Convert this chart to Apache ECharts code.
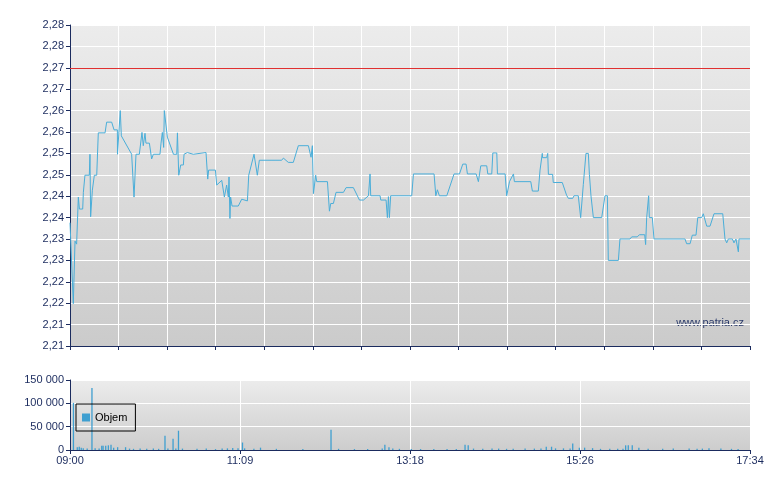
<!DOCTYPE html>
<html><head><meta charset="utf-8">
<script src="https://cdn.jsdelivr.net/npm/echarts@6/dist/echarts.min.js"></script>
<style>html,body{margin:0;padding:0;background:#fff}#c{width:780px;height:490px}</style>
</head><body><div id="c"></div>
<script>
// [minutes since 09:00, price]
var pricePoints = [
[0,2.2338],[1.3,2.2338],[2.5,2.2149],[3.8,2.2295],[5.0,2.2288],[6.3,2.2398],[7.1,2.2370],[9.6,2.2370],[10.1,2.2409],[11.3,2.2449],[14.6,2.2449],[15.1,2.2498],[15.6,2.2352],[16.9,2.2414],[18.4,2.2449],[20.2,2.2449],[21.4,2.2548],[26.5,2.2548],[27.7,2.2573],[31.5,2.2573],[33.3,2.2555],[35.8,2.2555],[35.9,2.2498],[37.3,2.2498],[38.0,2.2600],[38.8,2.2541],[40.3,2.2541],[46.6,2.2498],[48.4,2.2398],[49.9,2.2498],[52.4,2.2498],[54.4,2.2549],[55.4,2.2518],[56.7,2.2547],[57.4,2.2524],[60.0,2.2524],[61.7,2.2487],[63.0,2.2498],[68.0,2.2498],[68.8,2.2524],[69.8,2.2549],[70.8,2.2514],[71.3,2.2600],[72.6,2.2600],[73.6,2.2538],[78.2,2.2498],[80.7,2.2498],[81.2,2.2548],[82.2,2.2449],[83.7,2.2473],[85.7,2.2473],[86.2,2.2498],[88.7,2.2502],[93.2,2.2498],[102.8,2.2502],[104.1,2.2440],[104.8,2.2461],[109.9,2.2461],[110.9,2.2426],[114.7,2.2437],[116.7,2.2398],[118.4,2.2426],[119.7,2.2398],[120.2,2.2445],[120.9,2.2348],[121.4,2.2398],[122.5,2.2377],[127.2,2.2377],[129.8,2.2393],[134.1,2.2389],[135.1,2.2449],[139.1,2.2498],[140.6,2.2498],[141.6,2.2449],[143.1,2.2484],[160.0,2.2484],[161.3,2.2489],[165.0,2.2479],[168.8,2.2479],[172.6,2.2518],[180.2,2.2518],[182.2,2.2491],[183.2,2.2518],[184.0,2.2406],[185.7,2.2449],[186.5,2.2434],
[194.6,2.2434],[196.1,2.2365],[197.1,2.2383],[199.1,2.2383],[201.1,2.2409],[206.7,2.2409],[208.7,2.2420],[214.2,2.2420],[218.8,2.2391],[221.8,2.2391],[225.6,2.2401],[226.8,2.2452],[227.3,2.2401],[234.4,2.2401],[234.9,2.2391],[238.9,2.2391],[239.9,2.2350],[240.7,2.2399],[241.4,2.2350],[242.4,2.2401],[258.3,2.2401],[259.6,2.2452],[275.2,2.2452],[276.5,2.2401],[277.7,2.2415],[279.2,2.2401],[284.8,2.2401],[290.3,2.2452],[294.4,2.2452],[296.9,2.2475],[299.4,2.2475],[300.4,2.2452],[307.0,2.2452],[308.7,2.2434],[310.5,2.2471],[315.0,2.2471],[315.8,2.2452],[318.8,2.2452],[319.6,2.2501],[322.6,2.2501],[323.1,2.2452],[328.9,2.2452],[330.1,2.2401],[332.2,2.2434],[335.2,2.2452],[335.9,2.2434],[348.3,2.2434],[349.5,2.2412],[354.0,2.2412],
[355.3,2.2461],[357.0,2.2500],[357.2,2.2490],[360.3,2.2490],[361.1,2.2500],[361.6,2.2451],[364.8,2.2451],[365.3,2.2432],[372.1,2.2432],[375.4,2.2402],[376.7,2.2395],[380.0,2.2395],[381.0,2.2401],[384.2,2.2401],[386.0,2.2350],[388.0,2.2427],[389.3,2.2427],[390.0,2.2500],[391.8,2.2500],[392.6,2.2451],[393.8,2.2401],[394.8,2.2401],[395.6,2.2350],[401.9,2.2350],[404.4,2.2401],[406.2,2.2401],[406.9,2.2250],[414.5,2.2250],[415.7,2.2300],[423.3,2.2300],[424.6,2.2305],[428.8,2.2305],[430.4,2.2310],[434.4,2.2310],[435.1,2.2287],[435.9,2.2350],[437.4,2.2401],[437.9,2.2350],[440.2,2.2350],[441.4,2.2300],[464.9,2.2300],[466.1,2.2289],[468.7,2.2289],[470.4,2.2309],[473.2,2.2309],[474.5,2.2350],[477.5,2.2350],[478.7,2.2359],[481.3,2.2330],[483.8,2.2330],[486.8,2.2359],[493.4,2.2359],[495.1,2.2300],[496.4,2.2291],[497.6,2.2300],[500.7,2.2300],[501.9,2.2291],[503.4,2.2300],[504.7,2.2300],[505.2,2.2270],[505.7,2.2300],[514,2.2300]];
var volTimes = [2.6,5.5,7.0,8.5,10,13,16.6,19,22,24,25,27,29,31,33,36,42,45,48,53,58,63,67,71.8,74,77.9,80,82,85,96,103,110,115,119,123,127,130.4,132,139,144,156,176,197.3,203,215,225,236,238,241.1,244,249,258,265,275,285,292,298.6,301,305,312,319,324,330,335,344,351,356,360,364,367,373,378,380,385,389,395,401,408,414,418,420,422,425,430,437,448,456,468,474,478,483,492,500,505];
var volumes = [101000,6000,7000,5000,4000,3000,132600,4000,3000,9000,9000,9000,10000,11000,5000,6000,6000,3000,2500,3000,2500,3000,2500,30400,3000,24000,3000,41300,3000,2500,3000,2000,3000,3500,4500,3500,16000,3500,2500,5000,2500,2000,43500,2500,2000,2000,3000,11000,6000,3000,2500,2000,2000,2000,2000,2000,11000,10000,3000,2500,3000,3000,2500,2500,3000,3000,3000,7000,7000,3500,3500,3000,13800,5000,5000,4000,2500,2500,2500,2500,10000,10000,10000,5000,2500,2500,3000,3000,2500,3000,4000,3000,2500,2000];
var refPrice = 2.27;
var timeLabels = ['09:00','11:09','13:18','15:26','17:34'];

var V = volTimes.map(function(t,i){return [t,volumes[i]];});
var navy = '#1b2b5e';
function bg(a,b){return {type:'linear',x:0,y:0,x2:0,y2:1,colorStops:[{offset:0,color:a},{offset:1,color:b}]};}
var chart = echarts.init(document.getElementById('c'));
chart.setOption({
  animation:false,
  textStyle:{fontFamily:'Liberation Sans, Arial, sans-serif'},
  grid:[
    {left:70,right:30,top:25,height:321,show:true,borderWidth:0,backgroundColor:bg('#ececec','#cbcbcb')},
    {left:70,right:30,top:380,height:70,show:true,borderWidth:0,backgroundColor:bg('#ececec','#cdcdcd')}
  ],
  xAxis:[
    {type:'value',gridIndex:0,min:0,max:514,interval:514/14,
     axisLine:{show:true,lineStyle:{color:navy}},axisTick:{show:true,length:4,lineStyle:{color:navy}},
     axisLabel:{show:false},splitLine:{show:true,lineStyle:{color:'#ffffff',width:1}}},
    {type:'value',gridIndex:1,min:0,max:514,interval:128.5,
     axisLine:{show:true,lineStyle:{color:navy}},axisTick:{show:true,length:4,lineStyle:{color:navy}},
     axisLabel:{show:true,color:navy,fontSize:11,margin:5,formatter:function(v){return timeLabels[Math.round(v/128.5)]||'';}},
     splitLine:{show:true,lineStyle:{color:'#ffffff',width:1}}}
  ],
  yAxis:[
    {type:'value',gridIndex:0,min:2.205,max:2.28,interval:0.005,
     axisLine:{show:true,lineStyle:{color:navy}},axisTick:{show:true,length:4,lineStyle:{color:navy}},
     axisLabel:{color:navy,fontSize:11,margin:6,formatter:function(v){return (v+1e-9).toFixed(2).replace('.',',');}},
     splitLine:{show:true,lineStyle:{color:'#ffffff',width:1}}},
    {type:'value',gridIndex:1,min:0,max:150000,interval:50000,
     axisLine:{show:true,lineStyle:{color:navy}},axisTick:{show:true,length:4,lineStyle:{color:navy}},
     axisLabel:{color:navy,fontSize:11,margin:6,formatter:function(v){return String(v).replace(/\B(?=(\d{3})+(?!\d))/g,' ');}},
     splitLine:{show:true,lineStyle:{color:'#ffffff',width:1}}}
  ],
  legend:{data:['Objem'],left:76,top:404,orient:'vertical',borderColor:'#000',borderWidth:1,padding:[8,8,8,6],
    itemWidth:8,itemHeight:8,itemGap:4,icon:'rect',textStyle:{color:'#000',fontSize:11},
    backgroundColor:'rgba(0,0,0,0)'},
  graphic:[{type:'text',right:36,top:317,style:{text:'www.patria.cz',fill:'#2a3a6a',fontSize:11,fontFamily:'Liberation Sans, Arial'}}],
  series:[
    {type:'line',name:'Cena',xAxisIndex:0,yAxisIndex:0,data:pricePoints,showSymbol:false,
     lineStyle:{color:'#4aaed9',width:1},itemStyle:{color:'#4aaed9'},
     markLine:{silent:true,symbol:'none',label:{show:false},lineStyle:{color:'#e03030',width:1,type:'solid'},data:[{yAxis:refPrice}]}},
    {type:'bar',name:'Objem',xAxisIndex:1,yAxisIndex:1,data:V,barWidth:1.3,
     itemStyle:{color:'#3f9fd0'}}
  ]
});
</script></body></html>
